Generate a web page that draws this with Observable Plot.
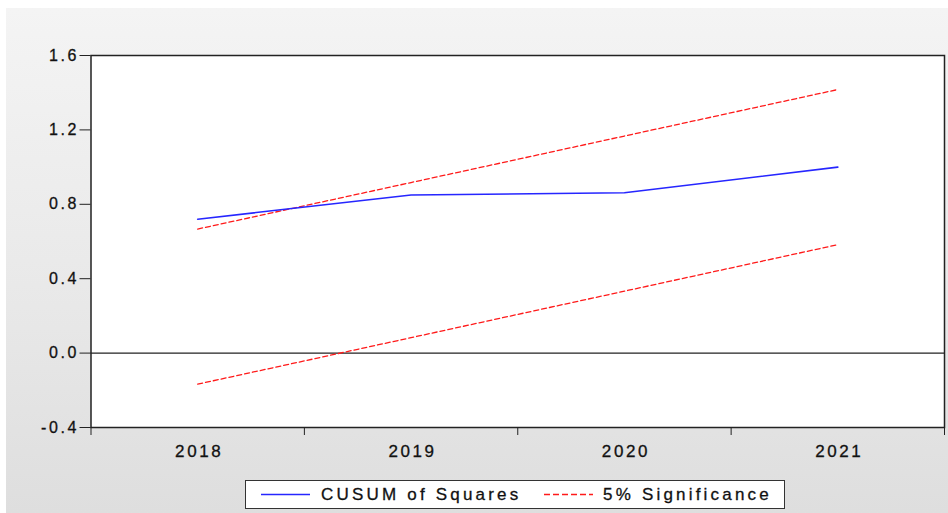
<!DOCTYPE html>
<html>
<head>
<meta charset="utf-8">
<script src="https://cdn.jsdelivr.net/npm/d3@7"></script>
<script src="https://cdn.jsdelivr.net/npm/@observablehq/plot@0.6"></script>
<style>
  html, body { margin: 0; padding: 0; background: #ffffff; }
  #wrap {
    position: absolute; left: 6px; top: 8px; width: 942px; height: 505px;
    background: linear-gradient(to bottom, #f4f4f4 0%, #e9e9e9 55%, #dedede 100%);
  }
  #chart svg { display: block; }
  #legend {
    position: absolute; left: 239px; top: 472px; width: 538px; height: 27px;
    background: #ffffff; border: 1px solid #333;
    font-family: "Liberation Sans", Arial, sans-serif; font-size: 17px;
    letter-spacing: 3.2px; color: #111;
  }
  #legend .item { position: absolute; top: 0; height: 27px; line-height: 27px; white-space: nowrap; }
  #legend svg { position: absolute; top: 0; }
</style>
</head>
<body>
<div id="wrap">
  <div id="chart"></div>
  <div id="legend"></div>
</div>
<script>
const years = [2018, 2019, 2020, 2021];
const cusumSq = [0.72, 0.85, 0.862, 1.0];
const upper5 = [0.667, 0.917, 1.167, 1.417];
const lower5 = [-0.167, 0.083, 0.333, 0.583];
const yTicks = [-0.4, 0.0, 0.4, 0.8, 1.2, 1.6];
const xBoundaries = [2017.5, 2018.5, 2019.5, 2020.5, 2021.5];
const seriesNames = ["CUSUM of Squares", "5% Significance"];

const blue = "#2626ff";
const red = "#ff1a1a";

const rows = years.map((y, i) => ({year: y, cusum: cusumSq[i], upper: upper5[i], lower: lower5[i]}));

const chart = Plot.plot({
  width: 942,
  height: 462,
  marginLeft: 84.5,
  marginRight: 4,
  marginTop: 47,
  marginBottom: 43,
  style: {
    fontFamily: "'Liberation Sans', Arial, sans-serif",
    background: "transparent",
    color: "#111",
    overflow: "visible"
  },
  x: {domain: [2017.5, 2021.5]},
  y: {domain: [-0.4, 1.6]},
  marks: [
    Plot.frame({fill: "white", stroke: null}),
    Plot.ruleY([0], {stroke: "#222", strokeWidth: 1.2}),
    Plot.line(rows, {x: "year", y: "upper", stroke: red, strokeWidth: 1.3, strokeDasharray: "5,3"}),
    Plot.line(rows, {x: "year", y: "lower", stroke: red, strokeWidth: 1.3, strokeDasharray: "5,3"}),
    Plot.line(rows, {x: "year", y: "cusum", stroke: blue, strokeWidth: 1.6}),
    Plot.frame({stroke: "#222", strokeWidth: 1.5}),
    Plot.axisY({ticks: yTicks, tickFormat: d => d.toFixed(1), tickSize: 11, tickPadding: 1, fontSize: 16, label: null, stroke: "#222"}),
    Plot.axisX({ticks: xBoundaries, tickFormat: () => "", tickSize: 8, label: null, stroke: "#222"}),
    Plot.axisX({ticks: years, tickFormat: d => String(d), tickSize: 0, tickPadding: 17, fontSize: 17, label: null, dx: 1.5})
  ]
});
d3.select(chart).selectAll("text").style("letter-spacing", "2.6px").style("stroke", "#111").style("stroke-width", "0.3px");
document.getElementById("chart").appendChild(chart);

// legend
const legend = document.getElementById("legend");
function addSample(left, color, dash) {
  const ns = "http://www.w3.org/2000/svg";
  const s = document.createElementNS(ns, "svg");
  s.setAttribute("width", 50); s.setAttribute("height", 27);
  s.style.left = left + "px";
  const l = document.createElementNS(ns, "line");
  l.setAttribute("x1", 0); l.setAttribute("x2", 49);
  l.setAttribute("y1", 13.5); l.setAttribute("y2", 13.5);
  l.setAttribute("stroke", color); l.setAttribute("stroke-width", 1.5);
  if (dash) l.setAttribute("stroke-dasharray", dash);
  s.appendChild(l);
  legend.appendChild(s);
}
function addText(left, txt) {
  const d = document.createElement("div");
  d.className = "item"; d.style.left = left + "px"; d.textContent = txt;
  d.style.webkitTextStroke = "0.3px #111";
  legend.appendChild(d);
}
addSample(15, blue, null);
addText(75, seriesNames[0]);
addSample(298, red, "6,3");
addText(357, seriesNames[1]);
</script>
</body>
</html>
